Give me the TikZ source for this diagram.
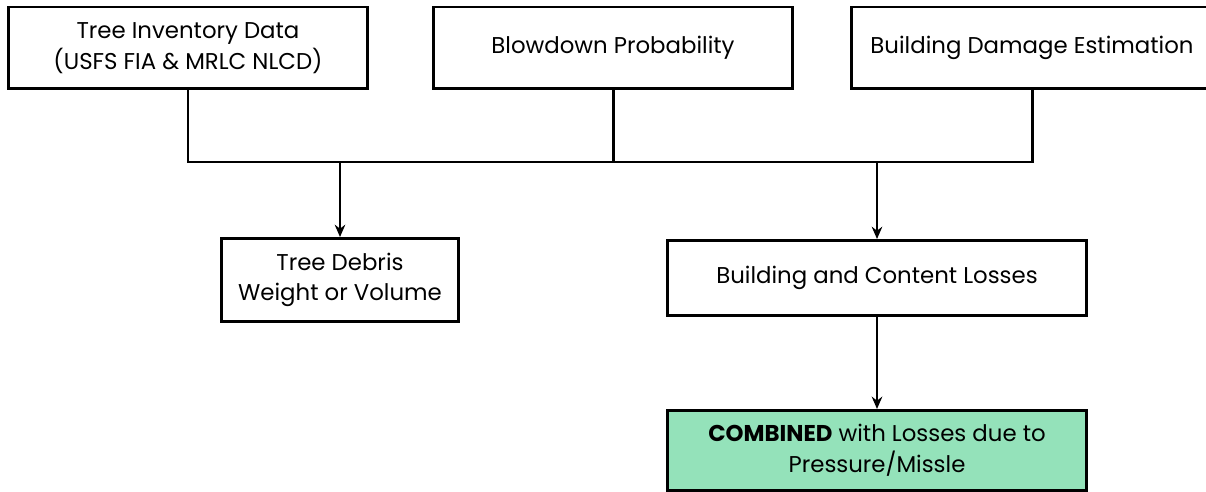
\documentclass[tikz,border=0pt]{standalone}
\usepackage{fontspec}
\setmainfont{Poppins}
\usepackage{xcolor}
\usepackage{tikz}
\definecolor{clrBox}     {RGB}{255,255,255}
\definecolor{clrCombined}{RGB}{148,226,186}
\usetikzlibrary{arrows.meta,positioning}

\begin{document}
\begin{tikzpicture}[
  x=0.02cm, y=-0.02cm,                      % one unit per pixel, y downwards
  every node/.style = {font=\fontsize{13}{17.5}\selectfont},
  %--- node styles ---------------------------------------------------
  srcst/.style    = {draw=black, fill=clrBox, line width=1.7pt,
                     rectangle, minimum width=7.2cm, minimum height=1.64cm,
                     align=center, inner sep=0pt},
  resst/.style    = {draw=black, fill=clrBox, line width=1.7pt,
                     rectangle, minimum width=8.4cm, minimum height=1.5cm,
                     align=center, inner sep=0pt},
  combst/.style   = {resst, fill=clrCombined, minimum height=1.6cm},
  bus/.style      = {line width=1.7pt, color=black},
  arr/.style      = {-{Stealth[length=7pt,width=6pt]}, line width=1.6pt,
                     color=black},
]
\useasboundingbox (0,0) rectangle (1206,492);
\clip (0,0) rectangle (1206,492);

% ---- Nodes --------------------------------------------------------
\node[srcst] (inv)  at (188,48)
    {Tree Inventory Data\\(USFS FIA \& MRLC NLCD)};
\node[srcst] (blow) at (613,48)  {Blowdown Probability};
\node[srcst, minimum width=7.24cm] (dmg) at (1032,48)
    {Building Damage Estimation};

\node[srcst, minimum width=4.74cm, minimum height=1.66cm] (debris) at (340,280)
    {Tree Debris\\Weight or Volume};
\node[resst] (loss) at (877,278) {Building and Content Losses};
\node[combst, below=1.84cm of loss] (comb)
    {\textbf{COMBINED} with Losses due to\\Pressure/Missle};

% ---- Connectors ---------------------------------------------------
\coordinate (junc) at (0,162);
\draw[bus] (inv.south) -- (inv.south |- junc) -- (dmg.south |- junc)
           -- (dmg.south);
\draw[bus] (blow.south) -- (blow.south |- junc);

\draw[arr] (debris.north |- junc) -- (debris.north);
\draw[arr] (loss.north |- junc)   -- (loss.north);
\draw[arr] (loss)                 -- (comb);

\end{tikzpicture}
\end{document}
